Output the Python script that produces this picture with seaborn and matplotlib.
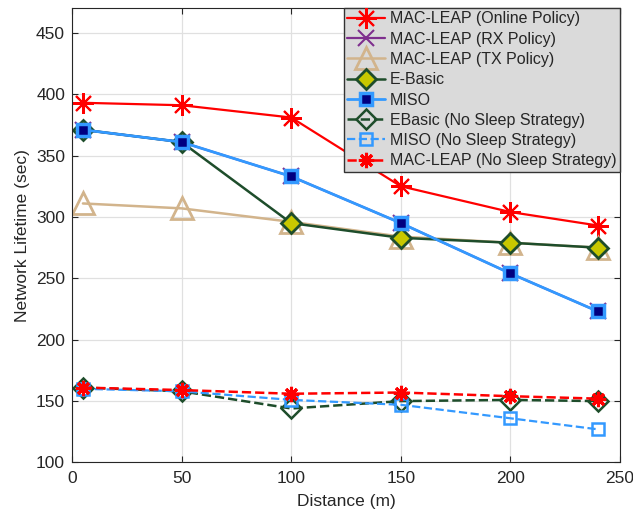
import matplotlib
matplotlib.use("Agg")
import matplotlib.pyplot as plt
import seaborn as sns
import pandas as pd

distance = [5, 50, 100, 150, 200, 240]
online = [393, 391, 381, 325, 304, 293]
rx = [371, 361, 333, 295, 254, 223]
tx = [311, 307, 296, 284, 279, 275]
ebasic = [371, 361, 295, 283, 279, 275]
miso = [371, 361, 333, 295, 254, 223]
ebasic_ns = [161, 158, 144, 150, 151, 150]
miso_ns = [160, 158, 151, 147, 136, 127]
macleap_ns = [161, 159, 156, 157, 154, 152]

labels = ["MAC-LEAP (Online Policy)", "MAC-LEAP (RX Policy)", "MAC-LEAP (TX Policy)",
          "E-Basic", "MISO", "EBasic (No Sleep Strategy)", "MISO (No Sleep Strategy)",
          "MAC-LEAP (No Sleep Strategy)"]
xticks = [0, 50, 100, 150, 200, 250]
yticks = [100, 150, 200, 250, 300, 350, 400, 450]

sns.set_style("white")
plt.rcParams['font.family'] = ['Liberation Sans', 'DejaVu Sans']

fig = plt.figure(figsize=(6.33, 5.16), dpi=100)
ax = fig.add_axes([0.1137, 0.1037, 0.8658, 0.8803])

star = (8, 2, 0)
styles = [
    dict(y=online, color='#ff0000', marker=star, markersize=15, mec='#ff0000', mfc=None, mew=1.5, lw=1.6, ls='-'),
    dict(y=rx, color='#7e2f8e', marker='x', markersize=11, mec='#7e2f8e', mfc=None, mew=1.5, lw=1.6, ls='-'),
    dict(y=tx, color='#d2b48c', marker='^', markersize=16, mec='#d2b48c', mfc='none', mew=2, lw=1.8, ls='-'),
    dict(y=ebasic, color='#1e4d2b', marker='D', markersize=10, mec='#1e4d2b', mfc='#c8c800', mew=2, lw=1.8, ls='-'),
    dict(y=miso, color='#3399ff', marker='s', markersize=9, mec='#3399ff', mfc='#000080', mew=2.5, lw=2.0, ls='-'),
    dict(y=ebasic_ns, color='#1e4d2b', marker='D', markersize=10, mec='#1e4d2b', mfc='none', mew=1.8, lw=1.8, ls='--'),
    dict(y=miso_ns, color='#3399ff', marker='s', markersize=9, mec='#3399ff', mfc='none', mew=1.8, lw=1.6, ls='--'),
    dict(y=macleap_ns, color='#ff0000', marker=star, markersize=11, mec='#ff0000', mfc=None, mew=2.2, lw=1.8, ls='--'),
]

for lab, st in zip(labels, styles):
    df = pd.DataFrame({'Distance': distance, 'Lifetime': st['y']})
    kw = {}
    if st['mfc'] is not None:
        kw['markerfacecolor'] = st['mfc']
    sns.lineplot(data=df, x='Distance', y='Lifetime', ax=ax, label=lab,
                 color=st['color'], linestyle=st['ls'], linewidth=st['lw'],
                 marker=st['marker'], markersize=st['markersize'],
                 markeredgecolor=st['mec'], markeredgewidth=st['mew'],
                 sort=False, **kw)

ax.set_xlim(0, 250)
ax.set_ylim(100, 470)
ax.set_xticks(xticks)
ax.set_yticks(yticks)
ax.grid(True, color='#e0e0e0', linewidth=0.9)
ax.set_axisbelow(True)
for s in ax.spines.values():
    s.set_visible(True)
    s.set_color('#262626')
    s.set_linewidth(0.8)
ax.tick_params(axis='both', which='both', direction='in', length=4, labelsize=12.5,
               colors='#262626', top=True, right=True, bottom=True, left=True)
ax.tick_params(axis='x', pad=6)
ax.tick_params(axis='y', pad=5)
ax.set_xlabel('Distance (m)', fontsize=12.5, color='#262626', labelpad=6)
ax.set_ylabel('Network Lifetime (sec)', fontsize=12.5, color='#262626', labelpad=4)

leg = ax.legend(loc='upper right', fontsize=11.5, frameon=True, fancybox=False,
                facecolor='#dadada', edgecolor='#333333', framealpha=1,
                borderpad=0.2, labelspacing=0.33, handlelength=2.4, handletextpad=0.3,
                borderaxespad=0.0)
leg.get_frame().set_linewidth(1.0)

fig.savefig('out.png', dpi=100)
